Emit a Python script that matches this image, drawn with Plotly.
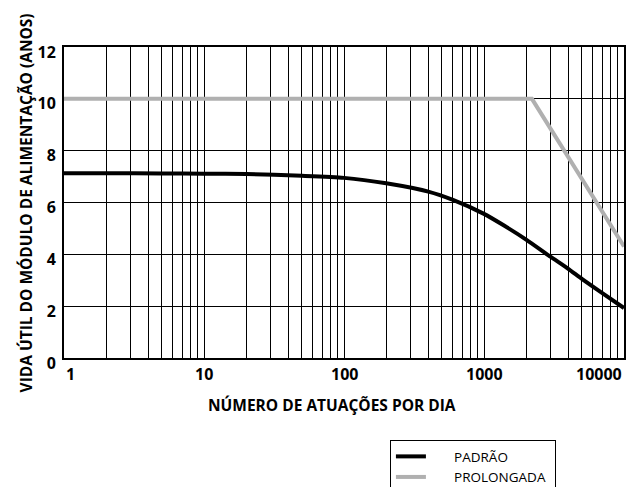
import math
import plotly.graph_objects as go

# Data
padrao_x = [1, 2, 5, 10, 20, 50, 100, 200, 400, 600, 1000, 1400, 2000, 3000, 4000, 5000, 7000, 10000]
padrao_y = [7.13, 7.13, 7.12, 7.11, 7.1, 7.03, 6.95, 6.74, 6.42, 6.1, 5.56, 5.1, 4.57, 3.9, 3.44, 3.05, 2.5, 1.93]

prolongada_x = [1, 2200, 10000]
prolongada_y = [10, 10, 4.3]

x_tick_vals = [1, 10, 100, 1000, 10000]
x_tick_text = ["1", "10", "100", "1000", "10000"]
y_tick_vals = [0, 2, 4, 6, 8, 10, 12]
y_tick_text = ["0", "2", "4", "6", "8", "10", "12"]

series_names = ["PADRÃO", "PROLONGADA"]
x_title = "NÚMERO DE ATUAÇÕES POR DIA"
y_title = "VIDA ÚTIL DO MÓDULO DE ALIMENTAÇÃO (ANOS)"

FONT = "Open Sans"
PAD = "\u2007" * 3
TAIL = "\u00a0"

# vertical grid at every 1..9 per decade
grid_x = [m * 10 ** d for d in range(4) for m in range(1, 10)] + [10000]

fig = go.Figure()
fig.add_trace(go.Scatter(
    x=padrao_x, y=padrao_y, mode="lines", name=PAD + series_names[0] + TAIL,
    line=dict(color="black", width=4, shape="spline", smoothing=0.6),
))
fig.add_trace(go.Scatter(
    x=prolongada_x, y=prolongada_y, mode="lines", name=PAD + series_names[1] + TAIL,
    line=dict(color="#b0b0b0", width=4),
))

# x tick labels as annotations (end labels kept inside the frame like the reference)
for v, t in zip(x_tick_vals, x_tick_text):
    if v == x_tick_vals[0]:
        anchor = "left"
    elif v == x_tick_vals[-1]:
        anchor = "right"
    else:
        anchor = "center"
    fig.add_annotation(x=math.log10(v), y=0, xref="x", yref="paper",
                       text=t, showarrow=False, xanchor=anchor, yanchor="top",
                       yshift=-3, font=dict(family=FONT, size=16, color="black", weight="bold"))

fig.add_annotation(x=0.479, y=0, xref="paper", yref="paper", text=x_title,
                   showarrow=False, xanchor="center", yanchor="top", yshift=-34,
                   font=dict(family=FONT, size=15.5, color="black", weight="bold"))

fig.add_annotation(x=-0.068, y=0.5, xref="paper", yref="paper", text=y_title,
                   showarrow=False, xanchor="center", yanchor="middle", textangle=-90,
                   font=dict(family=FONT, size=15.5, color="black", weight="bold"))

# page body adds an 8px offset, so the figure is 632x479 to fill the 640x487 window
fig.update_layout(
    width=632, height=479,
    margin=dict(l=56, r=16, t=39, b=129, autoexpand=False),
    paper_bgcolor="white", plot_bgcolor="white",
    showlegend=True,
    legend=dict(
        x=0.582, y=-0.264, xanchor="left", yanchor="top",
        bordercolor="black", borderwidth=1, bgcolor="white",
        font=dict(family=FONT, size=13.5, color="black"),
        itemwidth=30, tracegroupgap=0,
    ),
    xaxis=dict(
        type="log", range=[0, 4], automargin=False,
        tickvals=grid_x, showticklabels=False, ticks="",
        showgrid=True, gridcolor="black", gridwidth=1.2,
        showline=True, linecolor="black", linewidth=2, mirror=True,
        zeroline=False,
    ),
    yaxis=dict(
        range=[0, 12], tickvals=y_tick_vals, ticktext=y_tick_text, automargin=False,
        ticks="", ticklabelshift=5, ticklabelstandoff=3,
        tickfont=dict(family=FONT, size=16, color="black", weight="bold"),
        showgrid=True, gridcolor="black", gridwidth=1,
        showline=True, linecolor="black", linewidth=2, mirror=True,
        zeroline=False,
    ),
)

fig.write_html("out.html")
